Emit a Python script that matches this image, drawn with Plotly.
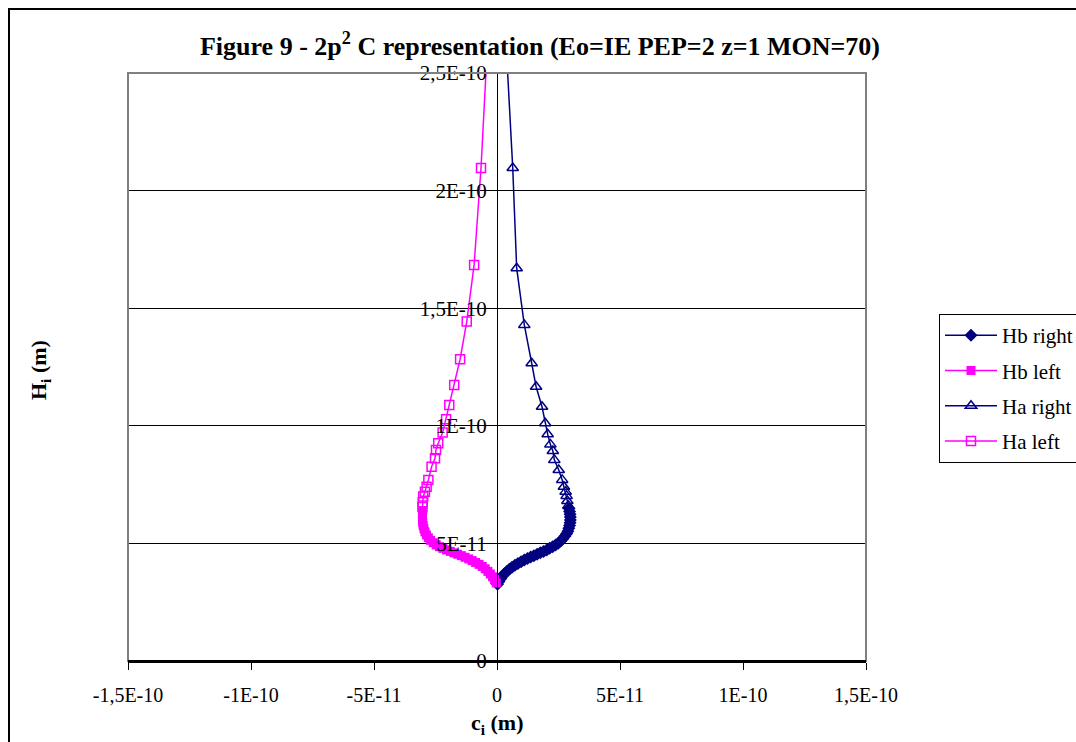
import plotly.graph_objects as go

# ---- data (values in units of 1E-11 m) ----
UNIT = 1e-11

hb_right_c = [0.02, 0.08, 0.15, 0.22, 0.30, 0.40, 0.50, 0.61, 0.73, 0.85, 0.98, 1.11,
              1.24, 1.37, 1.50, 1.63, 1.76, 1.89, 2.02, 2.14, 2.26, 2.38, 2.49, 2.59,
              2.68, 2.76, 2.83, 2.88, 2.92, 2.95, 2.97, 2.98, 2.98, 2.97, 2.95, 2.93]
hb_right_h = [3.26, 3.38, 3.50, 3.61, 3.71, 3.81, 3.90, 3.99, 4.07, 4.15, 4.22, 4.29,
              4.36, 4.42, 4.48, 4.54, 4.60, 4.66, 4.72, 4.79, 4.86, 4.93, 5.01, 5.10,
              5.20, 5.30, 5.41, 5.52, 5.64, 5.76, 5.88, 6.00, 6.12, 6.24, 6.36, 6.48]

hb_left_c = [-0.03, -0.10, -0.18, -0.27, -0.37, -0.48, -0.60, -0.73, -0.87, -1.01,
             -1.15, -1.30, -1.45, -1.60, -1.75, -1.90, -2.05, -2.20, -2.34, -2.47,
             -2.59, -2.70, -2.79, -2.87, -2.93, -2.97, -3.00, -3.02, -3.03, -3.03,
             -3.03, -3.02]
hb_left_h = [3.32, 3.46, 3.58, 3.70, 3.81, 3.92, 4.02, 4.11, 4.19, 4.27,
             4.34, 4.41, 4.48, 4.54, 4.60, 4.66, 4.72, 4.79, 4.86, 4.94,
             5.03, 5.13, 5.24, 5.36, 5.49, 5.62, 5.75, 5.88, 6.01, 6.14,
             6.27, 6.40]

ha_right_c = [0.33, 0.64, 0.80, 1.11, 1.41, 1.59, 1.83, 1.96, 2.06, 2.17, 2.27, 2.33,
              2.51, 2.65, 2.72, 2.79, 2.83, 2.86, 2.90]
ha_right_h = [27.0, 20.96, 16.70, 14.29, 12.66, 11.66, 10.81, 10.11, 9.64, 9.21, 8.93, 8.55,
              8.12, 7.70, 7.41, 7.20, 7.02, 6.80, 6.60]

ha_left_c = [-0.35, -0.65, -0.93, -1.23, -1.50, -1.74, -1.94, -2.07, -2.21, -2.39, -2.48,
             -2.52, -2.66, -2.79, -2.86, -2.93, -3.00, -3.02, -3.03]
ha_left_h = [27.0, 20.96, 16.84, 14.43, 12.83, 11.73, 10.88, 10.28, 9.71, 9.26, 8.97,
             8.62, 8.26, 7.70, 7.41, 7.20, 6.99, 6.75, 6.55]

x_tick_vals = [-1.5e-10, -1e-10, -5e-11, 0, 5e-11, 1e-10, 1.5e-10]
x_tick_text = ["-1,5E-10", "-1E-10", "-5E-11", "0", "5E-11", "1E-10", "1,5E-10"]
y_tick_vals = [0, 5e-11, 1e-10, 1.5e-10, 2e-10, 2.5e-10]
y_tick_text = ["0", "5E-11", "1E-10", "1,5E-10", "2E-10", "2,5E-10"]

NAVY = "#000080"
MAGENTA = "#FF00FF"
FONT = "Liberation Serif"

# ---- pixel layout helpers ----
W, H = 1076, 742
PL, PR, PT, PB = 128, 866, 73, 661


def px_x(p):
    return (p - PL) / (PR - PL)


def px_y(p):
    return (PB - p) / (PB - PT)


def scale(vals):
    return [v * UNIT for v in vals]


fig = go.Figure()
fig.add_trace(go.Scatter(
    x=scale(hb_right_c), y=scale(hb_right_h), name="Hb right", legendgroup="a",
    mode="lines+markers", line=dict(color=NAVY, width=1.5),
    marker=dict(symbol="diamond", size=10, color=NAVY)))
fig.add_trace(go.Scatter(
    x=scale(hb_left_c), y=scale(hb_left_h), name="Hb left", legendgroup="b",
    mode="lines+markers", line=dict(color=MAGENTA, width=1.5),
    marker=dict(symbol="square", size=9, color=MAGENTA)))
fig.add_trace(go.Scatter(
    x=scale(ha_right_c), y=scale(ha_right_h), name="Ha right", legendgroup="c",
    mode="lines+markers", line=dict(color=NAVY, width=1.5),
    marker=dict(symbol="triangle-up-open", size=10, color=NAVY, line=dict(width=1.5))))
fig.add_trace(go.Scatter(
    x=scale(ha_left_c), y=scale(ha_left_h), name="Ha left", legendgroup="d",
    mode="lines+markers", line=dict(color=MAGENTA, width=1.5),
    marker=dict(symbol="square-open", size=9, color=MAGENTA, line=dict(width=1.5))))

fig.update_layout(
    width=W, height=H,
    margin=dict(l=PL, r=W - PR, t=PT, b=H - PB, autoexpand=False),
    paper_bgcolor="white", plot_bgcolor="white",
    font=dict(family=FONT, color="black", size=18),
    title=dict(
        text="<b>Figure 9 - 2p<sup>2</sup> C representation (Eo=IE PEP=2 z=1 MON=70)</b>",
        font=dict(family=FONT, size=26, color="black"),
        x=px_x(540), xref="paper", xanchor="center",
        y=1 - 46 / H, yref="container", yanchor="middle"),
    xaxis=dict(
        range=[-1.5e-10, 1.5e-10], tickvals=x_tick_vals, ticktext=x_tick_text,
        ticks="outside", ticklen=7, tickcolor="black", tickwidth=1,
        showline=True, linecolor="black", linewidth=2,
        showgrid=False, zeroline=False, tickfont=dict(size=20),
        ticklabelstandoff=8),
    yaxis=dict(
        range=[0, 2.5e-10], tickvals=y_tick_vals, ticktext=y_tick_text,
        anchor="free", position=0.5,
        ticks="outside", ticklen=6, tickcolor="black", tickwidth=1,
        showline=True, linecolor="black", linewidth=1,
        showgrid=True, gridcolor="black", gridwidth=1,
        zeroline=False, tickfont=dict(size=21)),
    legend=dict(
        x=px_x(939), y=px_y(314), xanchor="left", yanchor="top",
        bordercolor="black", borderwidth=1, bgcolor="white",
        font=dict(family=FONT, size=21, color="black"),
        tracegroupgap=5, itemwidth=52, entrywidth=150, entrywidthmode="pixels"),
    showlegend=True,
)

# axis titles
fig.add_annotation(text="<b>c<sub>i</sub> (m)</b>", x=px_x(497), y=px_y(724),
                   xref="paper", yref="paper", showarrow=False,
                   xanchor="center", yanchor="middle",
                   font=dict(family=FONT, size=22, color="black"))
fig.add_annotation(text="<b>H<sub>i</sub> (m)</b>", x=px_x(40), y=px_y(370),
                   xref="paper", yref="paper", showarrow=False, textangle=-90,
                   xanchor="center", yanchor="middle",
                   font=dict(family=FONT, size=22, color="black"))

# plot-area border (gray) and chart-area frame (black)
fig.add_shape(type="rect", xref="paper", yref="paper", x0=0, x1=1, y0=0, y1=1,
              line=dict(color="#808080", width=2), layer="above")
fig.add_shape(type="line", xref="paper", yref="paper", x0=0, x1=1, y0=0, y1=0,
              line=dict(color="black", width=2), layer="above")
fig.add_shape(type="rect", xref="paper", yref="paper",
              x0=px_x(9), x1=px_x(1090), y0=px_y(9), y1=px_y(760),
              line=dict(color="black", width=2), layer="above")

fig.write_html("out.html")
